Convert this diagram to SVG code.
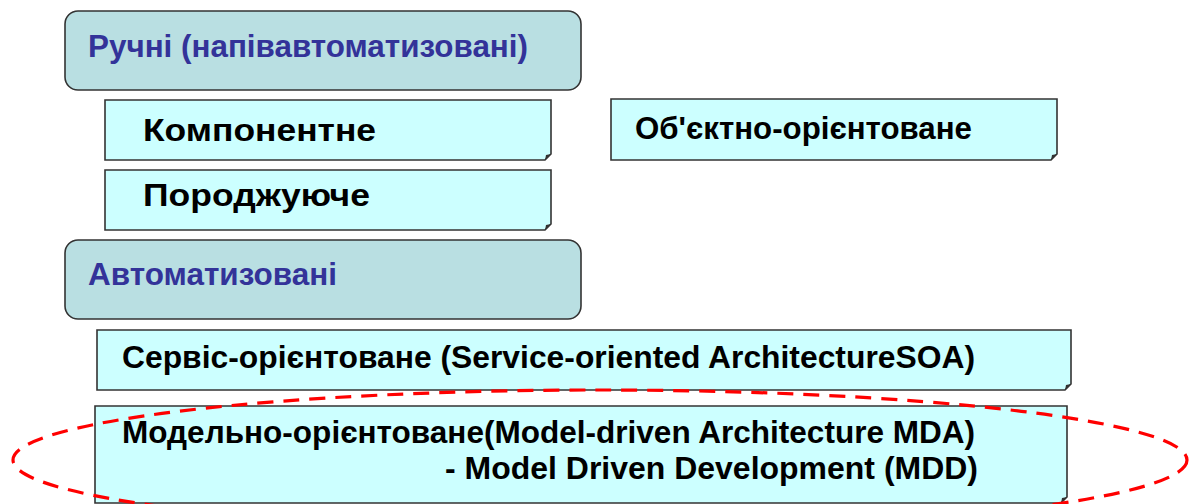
<svg xmlns="http://www.w3.org/2000/svg" width="1195" height="504" viewBox="0 0 1195 504">
<style>
.rb{fill:#b9dfe2;stroke:#333;stroke-width:1.6}
.nb{fill:#ccffff;stroke:#333;stroke-width:1.6}
.fold{fill:#333}
.ht{font-family:"Liberation Sans",Arial,sans-serif;font-weight:bold;font-size:31px;fill:#333399}
.bt{font-family:"Liberation Sans",Arial,sans-serif;font-weight:bold;font-size:31px;fill:#000}
.ct{font-family:"Liberation Sans",Arial,sans-serif;font-weight:bold;font-size:32px;fill:#000}
</style>
<rect width="1195" height="504" fill="#fff"/>
<g id="manual">
<rect class="rb" x="65" y="11" width="516" height="79" rx="13"/>
<text class="ht" x="88" y="57" textLength="440" lengthAdjust="spacingAndGlyphs">Ручні (напівавтоматизовані)</text>
</g>
<g id="component">
<path class="nb" d="M105 100H551V154L545 160H105Z"/>
<path class="fold" d="M545 160L551 154L546 155Z"/>
<text class="bt" x="143" y="141" textLength="233" lengthAdjust="spacingAndGlyphs">Компонентне</text>
</g>
<g id="generative">
<path class="nb" d="M105 170H551V224L545 230H105Z"/>
<path class="fold" d="M545 230L551 224L546 225Z"/>
<text class="bt" x="143" y="206" textLength="227" lengthAdjust="spacingAndGlyphs">Породжуюче</text>
</g>
<g id="object">
<path class="nb" d="M611 99H1057V154L1051 160H611Z"/>
<path class="fold" d="M1051 160L1057 154L1052 155Z"/>
<text class="bt" x="635" y="139" textLength="337" lengthAdjust="spacingAndGlyphs">Об'єктно-орієнтоване</text>
</g>
<g id="automated">
<rect class="rb" x="65" y="240" width="516" height="79" rx="13"/>
<text class="ht" x="88" y="285" textLength="249" lengthAdjust="spacingAndGlyphs">Автоматизовані</text>
</g>
<g id="soa">
<path class="nb" d="M97 330H1071V384L1065 390H97Z"/>
<path class="fold" d="M1065 390L1071 384L1066 385Z"/>
<text class="ct" x="122" y="368" textLength="853" lengthAdjust="spacingAndGlyphs">Сервіс-орієнтоване (Service-oriented ArchitectureSOA)</text>
</g>
<g id="mda">
<path class="nb" d="M95 406H1067V497L1061 503H95Z"/>
<path class="fold" d="M1061 503L1067 497L1062 498Z"/>
<text class="ct" x="122" y="443" textLength="853" lengthAdjust="spacingAndGlyphs">Модельно-орієнтоване(Model-driven Architecture MDA)</text>
<text class="ct" x="445" y="479" textLength="533" lengthAdjust="spacingAndGlyphs">- Model Driven Development (MDD)</text>
</g>
<g id="connectors">
<ellipse cx="600" cy="460" rx="587" ry="70" fill="none" stroke="#ff0000" stroke-width="3.2" stroke-dasharray="16 10"/>
</g>
</svg>
